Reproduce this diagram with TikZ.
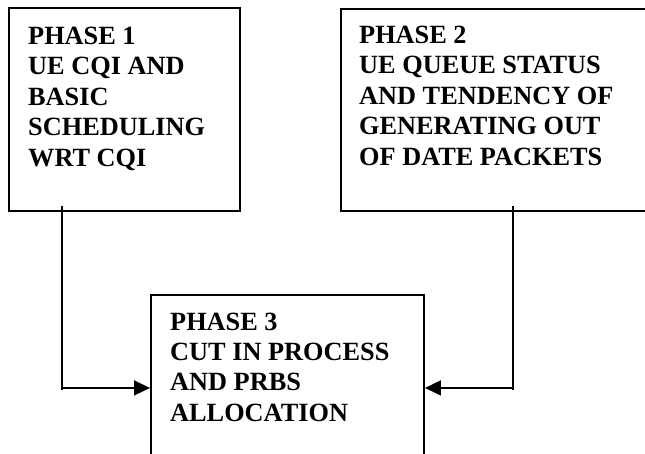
\documentclass[tikz,border=0pt]{standalone}
\usepackage{fontspec}
\setmainfont{Liberation Serif}
\usetikzlibrary{arrows.meta}
\begin{document}
\begin{tikzpicture}[x=1pt,y=-1pt,
  box/.style={draw,line width=1.9pt,rectangle,inner sep=0pt,anchor=north west},
  lbl/.style={anchor=base west,inner sep=0pt,font=\bfseries\fontsize{26.3}{30.5}\selectfont},
  wire/.style={line width=1.6pt},
  tip/.style={wire,-{Triangle[length=16pt,width=15pt]}}]
\useasboundingbox (0,0) rectangle (645,454);
\clip (0,0) rectangle (645,454);
% the three phase boxes
\node[box,minimum width=231,minimum height=203] (b1) at (8,7) {};
\node[box,minimum width=330,minimum height=202] (b2) at (340,8) {};
\node[box,minimum width=273,minimum height=186] (b3) at (150,294) {};
% box captions
\node[lbl] (t1) at (28,44.5) {\parbox[t]{300pt}{\raggedright PHASE 1\\UE CQI AND\\BASIC\\SCHEDULING\\WRT CQI}};
\node[lbl] (t2) at (359,43.5) {\parbox[t]{300pt}{\raggedright PHASE 2\\UE QUEUE STATUS\\AND TENDENCY OF\\GENERATING OUT\\OF DATE PACKETS}};
\node[lbl] (t3) at (170,330) {\parbox[t]{300pt}{\raggedright PHASE 3\\CUT IN PROCESS\\AND PRBS\\ALLOCATION}};
% feeds from phase 1 and phase 2 into phase 3
\coordinate (s1) at (62,206);
\coordinate (e1) at (62,390);
\coordinate (s2) at (513,206);
\coordinate (e2) at (513,390);
\draw[wire] (s1) -- (e1);
\draw[wire] (s2) -- (e2);
\draw[tip] (s1 |- b3.west) -- (b3.west);
\draw[tip] (s2 |- b3.east) -- (b3.east);
\end{tikzpicture}
\end{document}
